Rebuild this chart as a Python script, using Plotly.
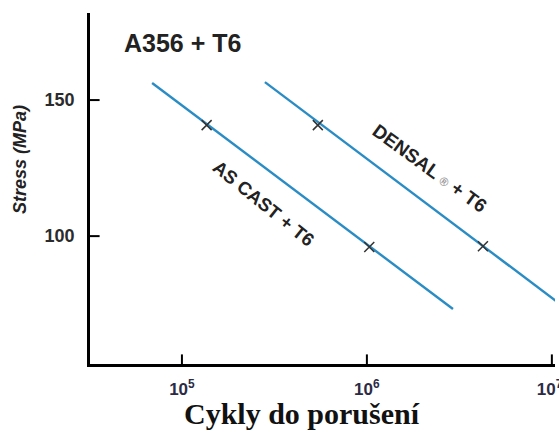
import plotly.graph_objects as go
import numpy as np

# Data
as_cast_line_n = [6.9e4, 2.92e6]
as_cast_line_s = [156.3, 73.2]
as_cast_pts_n = [1.36e5, 1.03e6]
as_cast_pts_s = [140.8, 96.0]

densal_line_n = [2.81e5, 1.1e7]
densal_line_s = [156.6, 75.2]
densal_pts_n = [5.43e5, 4.24e6]
densal_pts_s = [140.8, 96.3]

x_tickvals = [1e5, 1e6, 1e7]
x_ticktext = ["10<sup>5</sup>", "10<sup>6</sup>", "10<sup>7</sup>\u00a0"]
y_tickvals = [100, 150]
y_ticktext = ["100", "150"]

x_range = [4.503, 7.017]   # log10 units
y_range = [53, 182]

W, H = 559, 438
M = dict(l=90, r=4, t=13, b=74)
plot_w = W - M["l"] - M["r"]
plot_h = H - M["t"] - M["b"]
px_per_dec = plot_w / (x_range[1] - x_range[0])
px_per_mpa = plot_h / (y_range[1] - y_range[0])
tick_len = 8

line_color = "#2a8cc4"
mark_color = "#333333"

fig = go.Figure()
for xs, ys in [(as_cast_line_n, as_cast_line_s), (densal_line_n, densal_line_s)]:
    fig.add_trace(go.Scatter(x=xs, y=ys, mode="lines",
                             line=dict(color=line_color, width=2.4),
                             showlegend=False, hoverinfo="skip"))
for xs, ys in [(as_cast_pts_n, as_cast_pts_s), (densal_pts_n, densal_pts_s)]:
    fig.add_trace(go.Scatter(x=xs, y=ys, mode="markers",
                             marker=dict(symbol="x-thin", size=10,
                                         line=dict(color=mark_color, width=1.5)),
                             showlegend=False, hoverinfo="skip"))

# inward tick marks, placed at the tick values on the axis edges
fig.add_trace(go.Scatter(
    x=x_tickvals, y=[y_range[0] + (tick_len / 2) / px_per_mpa] * len(x_tickvals),
    mode="markers", cliponaxis=False, showlegend=False, hoverinfo="skip",
    marker=dict(symbol="line-ns", size=tick_len, line=dict(color="black", width=2))))
fig.add_trace(go.Scatter(
    x=[10 ** (x_range[0] + (tick_len / 2) / px_per_dec)] * len(y_tickvals), y=y_tickvals,
    mode="markers", cliponaxis=False, showlegend=False, hoverinfo="skip",
    marker=dict(symbol="line-ew", size=tick_len, line=dict(color="black", width=2))))

xtickfont = dict(family="Liberation Sans, Arial", size=17, color="#2b2b45", weight="bold")
ytickfont = dict(family="Liberation Sans, Arial", size=18, color="#2b2b2b", weight="bold")

fig.update_layout(
    xaxis=dict(type="log", range=x_range, tickvals=x_tickvals, ticktext=x_ticktext,
               ticks="", ticklabelstandoff=8,
               ticklabeloverflow="allow", automargin=False,
               showline=True, linecolor="black", linewidth=2.5,
               showgrid=False, zeroline=False, tickfont=xtickfont),
    yaxis=dict(range=y_range, tickvals=y_tickvals, ticktext=y_ticktext,
               ticks="", ticklabelstandoff=9, automargin=False,
               showline=True, linecolor="black", linewidth=2.5,
               showgrid=False, zeroline=False, tickfont=ytickfont),
)

ann_font = dict(family="Liberation Sans, Arial", size=18.5, color="#222222", weight="bold")
fig.add_annotation(x=np.log10(2.77e5), y=112.1, text="AS CAST + T6", showarrow=False,
                   textangle=39, font=ann_font, xanchor="center", yanchor="middle")
fig.add_annotation(x=np.log10(2.19e6), y=125.0,
                   text="DENSAL <span style='color:#999999;font-size:12px'>®</span> + T6",
                   showarrow=False, textangle=36,
                   font=dict(family="Liberation Sans, Arial", size=19, color="#222222", weight="bold"),
                   xanchor="center", yanchor="middle")
fig.add_annotation(x=np.log10(1.01e5), y=171, text="A356 + T6", showarrow=False,
                   xanchor="center", yanchor="middle",
                   font=dict(family="Liberation Sans, Arial", size=25, color="#222222", weight="bold"))
fig.add_annotation(xref="paper", yref="paper", x=-0.1505, y=0.581, text="Stress (MPa)",
                   showarrow=False, textangle=-90, xanchor="center", yanchor="middle",
                   font=dict(family="Liberation Sans, Arial", size=18, color="#222222",
                             weight="bold", style="italic"))
fig.add_annotation(xref="paper", yref="paper", x=0.456, y=-0.142, text="Cykly do porušení",
                   showarrow=False, xanchor="center", yanchor="middle",
                   font=dict(family="Liberation Serif, Times New Roman", size=30, color="#111111",
                             weight="bold"))

fig.update_layout(width=W, height=H, margin=M,
                  plot_bgcolor="white", paper_bgcolor="white")
fig.write_html("out.html")
